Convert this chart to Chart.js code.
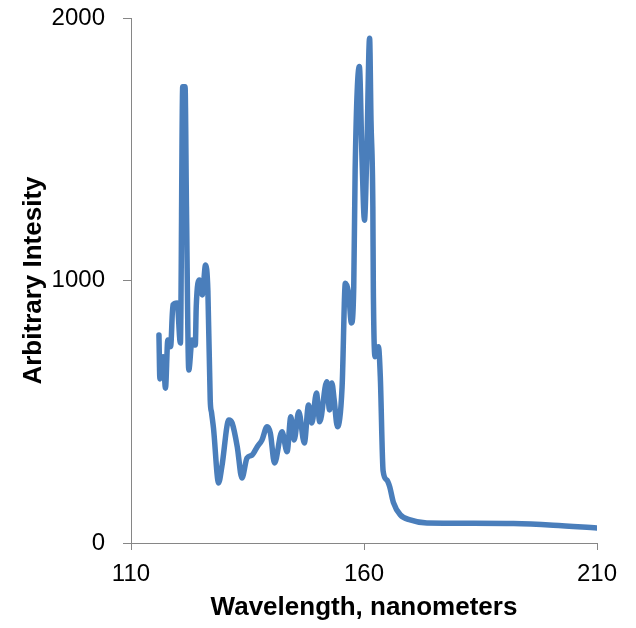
<!DOCTYPE html>
<html>
<head>
<meta charset="utf-8">
<script src="https://cdn.jsdelivr.net/npm/chart.js@4/dist/chart.umd.min.js"></script>
<style>
  html, body { margin: 0; padding: 0; background: #fff; }
  canvas { display: block; }
</style>
</head>
<body>
<canvas id="chart" width="636" height="628"></canvas>
<script>
// spectrum (nm, arbitrary intensity)
const wavelength = [
  116.0, 116.2, 116.9, 117.4, 117.9, 118.5, 119.0, 119.9, 120.6, 121.1,
  121.6, 121.9, 122.4, 123.1, 123.8, 124.0, 124.7, 125.3, 126.0, 126.5,
  127.0, 127.3, 127.7, 128.8, 129.5, 131.0, 131.7, 132.8, 133.8, 134.9,
  136.0, 137.1, 138.1, 139.2, 139.9, 140.8, 142.4, 143.5, 144.3, 145.0,
  146.0, 147.2, 148.1, 148.8, 149.8, 150.5, 152.0, 152.6, 153.1, 153.6,
  154.3, 155.3, 156.0, 156.7, 157.3, 157.8, 158.1, 159.0, 159.6, 160.1,
  160.6, 161.2, 161.5, 161.9, 162.0, 162.4, 162.8, 163.1, 163.5, 164.1,
  164.9, 165.5, 166.3, 167.8, 169.9, 173.5, 182.8, 192.1, 200.6, 210.0
];
const intensity = [
  792, 625, 710, 590, 773, 748, 907, 914, 762, 1738,
  1738, 1281, 659, 773, 754, 900, 1002, 945, 1059, 960,
  545, 495, 438, 229, 291, 469, 457, 367, 248, 324,
  335, 367, 392, 443, 419, 305, 424, 348, 481, 392,
  500, 381, 526, 457, 571, 462, 614, 507, 610, 545,
  443, 595, 990, 952, 838, 976, 1421, 1815, 1448, 1230,
  1486, 1923, 1611, 1281, 976, 710, 735, 748, 634, 275,
  240, 215, 155, 107, 88, 76, 75, 74, 68, 57
];
const xTicks = [110, 160, 210];
const yTicks = [0, 1000, 2000];

const axisColor = "#868686";
const fontFamily = "'Liberation Sans', Arial, sans-serif";

const points = wavelength.map((w, i) => ({ x: w, y: intensity[i] }));

new Chart(document.getElementById("chart").getContext("2d"), {
  type: "line",
  data: {
    datasets: [
      {
        data: points,
        borderColor: "#4a7ebb",
        borderWidth: 5.5,
        borderJoinStyle: "round",
        borderCapStyle: "round",
        pointRadius: 0,
        cubicInterpolationMode: "monotone",
        fill: false,
      },
    ],
  },
  options: {
    responsive: false,
    animation: false,
    layout: { padding: { top: 18, right: 39, bottom: 0, left: 0 } },
    plugins: { legend: { display: false }, tooltip: { enabled: false } },
    scales: {
      x: {
        type: "linear",
        min: xTicks[0],
        max: xTicks[xTicks.length - 1],
        afterBuildTicks: (scale) => {
          scale.ticks = xTicks.map((v) => ({ value: v }));
        },
        afterFit: (scale) => {
          scale.height = 85;
        },
        grid: { drawOnChartArea: false, drawTicks: true, tickLength: 7, color: axisColor },
        border: { color: axisColor, width: 1 },
        ticks: {
          color: "#000",
          padding: 10,
          font: { family: fontFamily, size: 24 },
          maxRotation: 0,
          callback: (v) => String(v),
        },
        title: {
          display: true,
          text: "Wavelength, nanometers",
          color: "#000",
          font: { family: fontFamily, size: 26, weight: "bold" },
          padding: { top: 0, bottom: 5 },
        },
      },
      y: {
        min: yTicks[0],
        max: yTicks[yTicks.length - 1],
        afterBuildTicks: (scale) => {
          scale.ticks = yTicks.map((v) => ({ value: v }));
        },
        afterFit: (scale) => {
          scale.width = 131;
          scale.paddingTop = 0;
          scale.paddingBottom = 0;
        },
        grid: { drawOnChartArea: false, drawTicks: true, tickLength: 8, color: axisColor },
        border: { color: axisColor, width: 1 },
        ticks: {
          color: "#000",
          padding: 18,
          font: { family: fontFamily, size: 24 },
          callback: (v) => String(v),
        },
        title: {
          display: true,
          text: "Arbitrary Intesity",
          color: "#000",
          font: { family: fontFamily, size: 26, weight: "bold" },
          padding: { top: 18, bottom: 0 },
        },
      },
    },
  },
});
</script>
</body>
</html>
